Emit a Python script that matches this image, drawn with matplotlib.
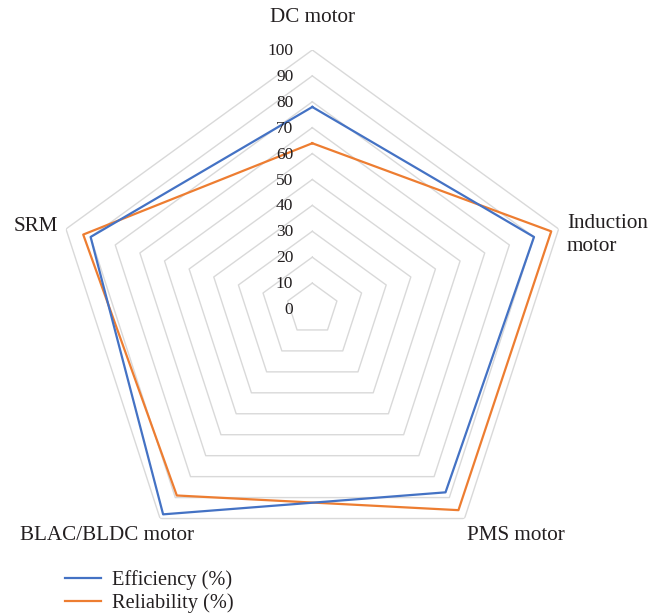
import numpy as np
import matplotlib
matplotlib.use("Agg")
import matplotlib.pyplot as plt

categories = ["DC motor", "Induction\nmotor", "PMS motor", "BLAC/BLDC motor", "SRM"]
efficiency = [78, 90, 87.5, 98, 90]
reliability = [64, 97, 96, 89, 93]
levels = [10, 20, 30, 40, 50, 60, 70, 80, 90, 100]
tick_labels = ["0", "10", "20", "30", "40", "50", "60", "70", "80", "90", "100"]

plt.rcParams['font.family'] = ['Liberation Serif', 'DejaVu Serif']

W, H = 665, 616
fig = plt.figure(figsize=(W / 100, H / 100), dpi=100)
cx, cy, R = 312.3, 309.0, 259.0
ax = fig.add_axes([(cx - R) / W, (H - cy - R) / H, 2 * R / W, 2 * R / H], projection='polar')
ax.set_theta_offset(np.pi / 2)
ax.set_theta_direction(-1)
ax.set_ylim(0, 100)
ax.axis('off')

n = len(categories)
theta = np.arange(n) * 2 * np.pi / n
theta_c = np.append(theta, theta[0])

for lv in levels:
    ax.plot(theta_c, [lv] * (n + 1), color='#D9D9D9', lw=1.0, zorder=1)

ax.plot(theta_c, efficiency + efficiency[:1], color='#4472C4', lw=1.6, zorder=3, label='Efficiency (%)')
ax.plot(theta_c, reliability + reliability[:1], color='#ED7D31', lw=1.6, zorder=2, label='Reliability (%)')

txtc = '#231F20'
# radial tick labels
for i, t in enumerate(tick_labels):
    v = i * 10
    fig.text((cx - 19) / W, 1 - (cy + 1 - v * R / 100) / H, t, ha='right', va='center',
             fontsize=12.5, color=txtc)

# category labels
lab_pos = [(313, 17, 'center'), (567, 235, 'left'), (516, 536, 'center'), (107, 536, 'center'), (36, 227, 'center')]
for (x, y, ha), c in zip(lab_pos, categories):
    fig.text(x / W, 1 - y / H, c, ha=ha, va='center', fontsize=15.2, color=txtc, linespacing=1.3)

leg = fig.legend(loc='upper left', bbox_to_anchor=(65 / W, 1 - 570 / H), frameon=False,
                 fontsize=14.7, handlelength=1.75, handletextpad=0.55, labelspacing=0.18,
                 borderaxespad=0, borderpad=0)
for t in leg.get_texts():
    t.set_color(txtc)

fig.savefig('out.png', dpi=100)
